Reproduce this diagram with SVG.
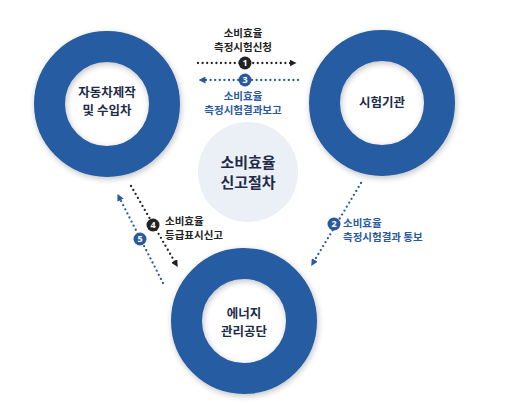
<svg xmlns="http://www.w3.org/2000/svg" width="520" height="415" viewBox="0 0 520 415">
<style>
.ring{fill:none;stroke:#255ba1;stroke-width:31}
.nt{font-family:"Noto Sans CJK KR","Noto Sans",sans-serif;font-weight:700;font-size:12.5px;fill:#1e2b47;text-anchor:middle}
.ct{font-family:"Noto Sans CJK KR","Noto Sans",sans-serif;font-weight:700;font-size:15px;fill:#1e2b47;text-anchor:middle}
.lb{font-family:"Noto Sans CJK KR","Noto Sans",sans-serif;font-weight:700;font-size:10.5px}
.dk{fill:#222}
.bl{fill:#2a5a9c}
.dl{fill:none;stroke-width:2.3;stroke-linecap:round;stroke-dasharray:0 4.6}
.bn{font-family:"Noto Sans",sans-serif;font-weight:700;font-size:9px;fill:#fff;text-anchor:middle}
</style>
<defs>
<filter id="sh" x="-20%" y="-20%" width="140%" height="140%">
<feGaussianBlur in="SourceAlpha" stdDeviation="3"/>
<feOffset dx="1" dy="2"/>
<feComponentTransfer><feFuncA type="linear" slope="0.25"/></feComponentTransfer>
<feMerge><feMergeNode/><feMergeNode in="SourceGraphic"/></feMerge>
</filter>
<marker id="ak" viewBox="0 0 10 10" refX="5" refY="5" markerWidth="7" markerHeight="7" orient="auto" markerUnits="userSpaceOnUse"><path d="M0,0 L10,5 L0,10 z" fill="#222"/></marker>
<marker id="ab" viewBox="0 0 10 10" refX="5" refY="5" markerWidth="7" markerHeight="7" orient="auto" markerUnits="userSpaceOnUse"><path d="M0,0 L10,5 L0,10 z" fill="#2a5a9c"/></marker>
</defs>
<rect width="520" height="415" fill="#fff"/>
<g id="center">
<circle cx="248" cy="172" r="50" fill="#eaf0f5"/>
<text class="ct" x="248" y="168">소비효율</text>
<text class="ct" x="248" y="188">신고절차</text>
</g>
<g id="maker">
<circle class="ring" cx="107" cy="104" r="57.5" filter="url(#sh)"/>
<text class="nt" x="107" y="97">자동차제작</text>
<text class="nt" x="107" y="115">및 수입차</text>
</g>
<g id="lab">
<circle class="ring" cx="382" cy="103" r="57.5" filter="url(#sh)"/>
<text class="nt" x="382" y="107">시험기관</text>
</g>
<g id="agency">
<circle class="ring" cx="244" cy="321" r="57.5" filter="url(#sh)"/>
<text class="nt" x="244" y="318">에너지</text>
<text class="nt" x="244" y="336">관리공단</text>
</g>
<g id="connectors">
<line class="dl" x1="198" y1="63" x2="293" y2="63" stroke="#222" marker-end="url(#ak)"/>
<circle class="dk" cx="245" cy="63" r="6.5"/>
<text class="bn" x="245" y="66.3">1</text>
<text class="lb dk" x="243" y="37" text-anchor="middle">소비효율</text>
<text class="lb dk" x="243" y="51" text-anchor="middle">측정시험신청</text>

<line class="dl" x1="298" y1="80" x2="202" y2="80" stroke="#2a5a9c" marker-end="url(#ab)"/>
<circle class="bl" cx="245" cy="80" r="6.5"/>
<text class="bn" x="245" y="83.3">3</text>
<text class="lb bl" x="243" y="100" text-anchor="middle">소비효율</text>
<text class="lb bl" x="243" y="114" text-anchor="middle">측정시험결과보고</text>

<line class="dl" x1="361" y1="183" x2="313" y2="263" stroke="#2a5a9c" marker-end="url(#ab)"/>
<circle class="bl" cx="334" cy="224" r="6.5"/>
<text class="bn" x="334" y="227.3">2</text>
<text class="lb bl" x="343" y="227">소비효율</text>
<text class="lb bl" x="343" y="241">측정시험결과 통보</text>

<line class="dl" x1="131" y1="186" x2="176" y2="264" stroke="#222" marker-end="url(#ak)"/>
<circle class="dk" cx="153" cy="225" r="6.5"/>
<text class="bn" x="153" y="228.3">4</text>
<text class="lb dk" x="165" y="225">소비효율</text>
<text class="lb dk" x="165" y="239">등급표시신고</text>

<line class="dl" x1="163" y1="283" x2="119" y2="197" stroke="#2a5a9c" marker-end="url(#ab)"/>
<circle class="bl" cx="140" cy="239" r="6.5"/>
<text class="bn" x="140" y="242.3">5</text>
</g>
</svg>
